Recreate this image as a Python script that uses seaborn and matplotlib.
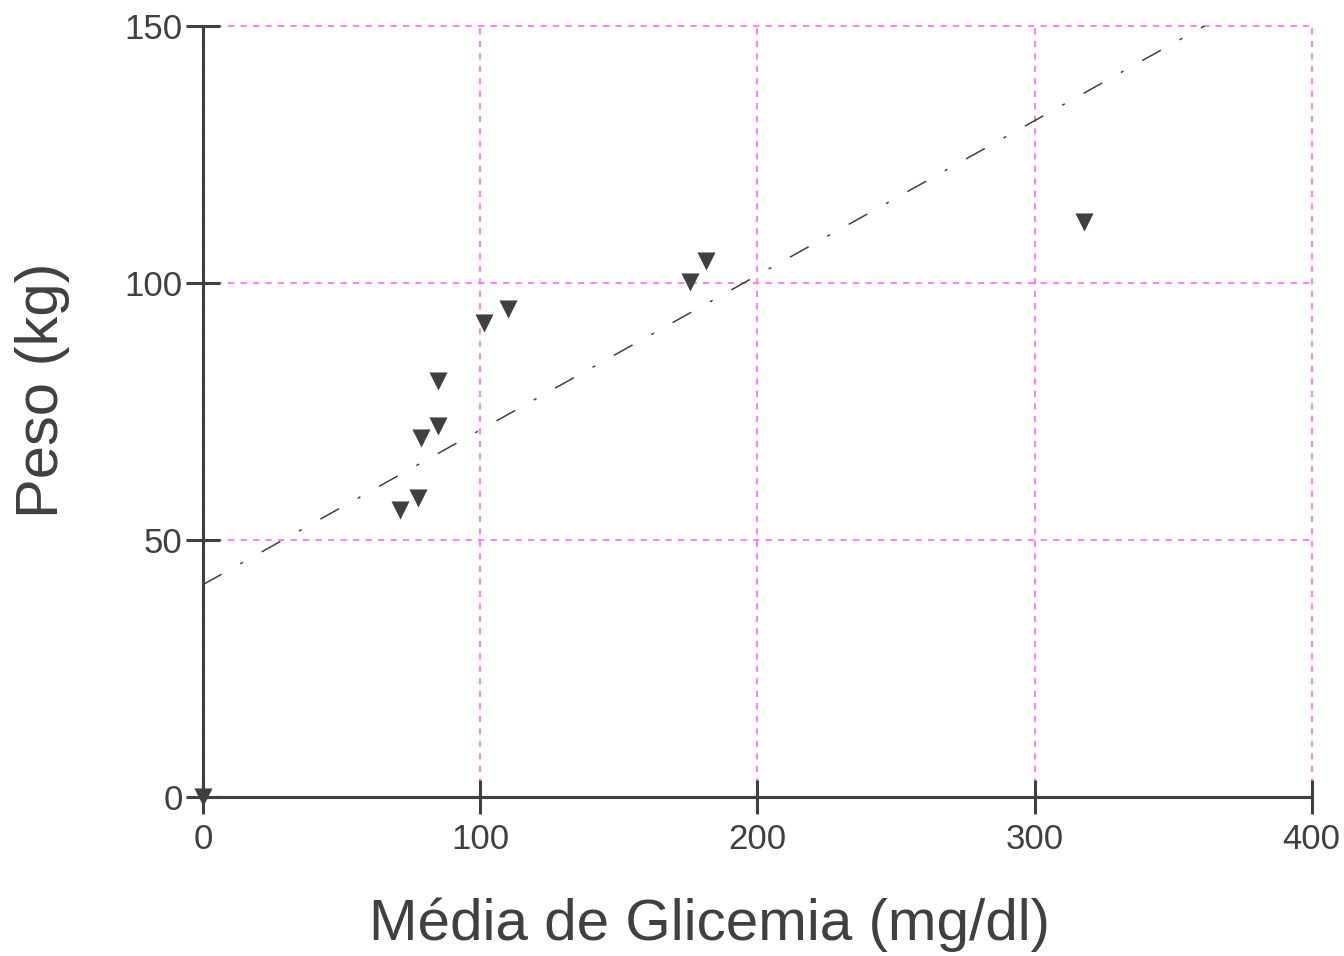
import numpy as np
import pandas as pd
import matplotlib
matplotlib.use("Agg")
import matplotlib.pyplot as plt
import seaborn as sns

# Datos
glicemia = [0, 71, 77.5, 78.6, 84.8, 84.8, 101.4, 110, 175.7, 181.4, 317.8]
peso = [0, 55.8, 58.2, 69.8, 72.2, 80.9, 92.2, 95, 100.2, 104.3, 111.9]
x_ticks = [0, 100, 200, 300, 400]
y_ticks = [0, 50, 100, 150]

df = pd.DataFrame({"glicemia": glicemia, "peso": peso})

sns.set_style("white")
plt.rcParams['font.family'] = ['Liberation Sans', 'DejaVu Sans']
gris = "#404040"

fig = plt.figure(figsize=(13.44, 9.56), dpi=100)
ax = fig.add_axes([0.151, 0.1663, 0.825, 0.8065])
ax.set_xlim(0, 400)
ax.set_ylim(0, 150)

# Línea de regresión (incluye todos los puntos)
sns.regplot(data=df, x="glicemia", y="peso", ax=ax, scatter=False, ci=None,
            truncate=False, color=gris,
            line_kws=dict(linewidth=1.1, dashes=(14, 14, 2, 14)))

sns.scatterplot(data=df, x="glicemia", y="peso", ax=ax, marker="v", s=170,
                color=gris, linewidth=0, zorder=5, clip_on=False)

ax.set_xticks(x_ticks)
ax.set_yticks(y_ticks)
ax.grid(True, color="#ff80ff", linestyle=(0, (3, 3)), linewidth=1.5)
ax.set_axisbelow(True)
for gl in ax.get_xgridlines() + ax.get_ygridlines():
    gl.set_clip_on(False)

for s in ["top", "right"]:
    ax.spines[s].set_visible(False)
for s in ["left", "bottom"]:
    ax.spines[s].set_color(gris)
    ax.spines[s].set_linewidth(2.2)

ax.tick_params(axis="both", bottom=True, left=True, direction="inout",
               length=25, width=2.2, color=gris, labelcolor=gris, labelsize=25)
ax.tick_params(axis="x", pad=6)
ax.tick_params(axis="y", pad=2)
for lab in ax.get_xticklabels() + ax.get_yticklabels():
    lab.set_fontfamily(['Liberation Sans Narrow', 'Liberation Sans', 'DejaVu Sans'])

ax.set_xlabel("Média de Glicemia (mg/dl)", fontsize=42, color=gris, va="center")
ax.set_ylabel("Peso (kg)", fontsize=43, color=gris, va="center")
ax.xaxis.set_label_coords(0.457, -0.166)
ax.yaxis.set_label_coords(-0.145, 0.527)

fig.savefig("out.png", dpi=100)
